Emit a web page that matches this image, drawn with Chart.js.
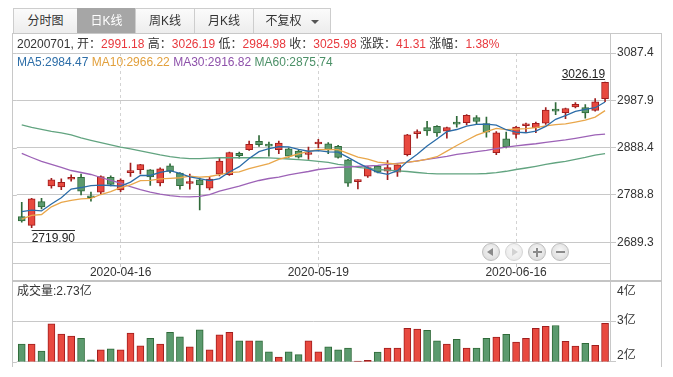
<!DOCTYPE html>
<html><head><meta charset="utf-8">
<script src="https://cdn.jsdelivr.net/npm/chart.js@4.4.0/dist/chart.umd.min.js"></script>
<style>
html,body{margin:0;padding:0;background:#fff;width:673px;height:377px;overflow:hidden;font-family:"Liberation Sans","Noto Sans CJK SC",Arial,sans-serif;font-size:12px;color:#333;}
.abs{position:absolute;white-space:nowrap;}
#pc{position:absolute;left:0;top:0;}
#vc{position:absolute;left:0;top:250px;}
.ln{position:absolute;background:#c8c8c8;}
.tab{position:absolute;top:8px;height:26px;box-sizing:border-box;border:1px solid #cdcdcd;background:linear-gradient(#fbfbfb,#ededed);text-align:center;line-height:24px;font-size:12px;color:#333;}
.tab.on{background:#a6a6a6;border-color:#a6a6a6;color:#fff;}
.tri{display:inline-block;width:0;height:0;border-left:4px solid transparent;border-right:4px solid transparent;border-top:4px solid #555;margin-left:9px;vertical-align:middle;}
.r{color:#e8383d;}
.nb{position:absolute;top:243px;width:18px;height:18px;border-radius:50%;box-sizing:border-box;background:radial-gradient(circle at 50% 40%,#f7f7f7,#d6d6d6);border:1px solid #bdbdbd;}
.nb i{position:absolute;display:block;}
</style></head>
<body>
<canvas id="pc" width="673" height="290"></canvas>
<canvas id="vc" width="673" height="127"></canvas>

<div class="tab" style="left:13px;width:65px;">分时图</div>
<div class="tab on" style="left:77px;width:59px;">日K线</div>
<div class="tab" style="left:135px;width:60px;">周K线</div>
<div class="tab" style="left:194px;width:60px;">月K线</div>
<div class="tab" style="left:253px;width:78px;">不复权<span class="tri"></span></div>

<div class="ln" style="left:12px;top:33px;width:650px;height:1px;"></div>
<div class="ln" style="left:12px;top:33px;width:1px;height:334px;"></div>
<div class="ln" style="left:661px;top:33px;width:1px;height:334px;"></div>
<div class="ln" style="left:610px;top:33px;width:1px;height:329px;"></div>
<div class="ln" style="left:12px;top:263px;width:598px;height:1px;"></div>
<div class="ln" style="left:12px;top:280px;width:650px;height:2px;background:#c4c4c4;"></div>

<div id="info" class="abs" style="left:17px;top:36px;line-height:16px;"></div>
<div id="malab" class="abs" style="left:17px;top:55px;line-height:15px;"></div>
<div id="vollab" class="abs" style="left:17px;top:284px;line-height:15px;">成交量:2.73亿</div>

<div class="nb" style="left:482px;"><i style="left:4px;top:4px;border-top:4px solid transparent;border-bottom:4px solid transparent;border-right:6px solid #8a8a8a;"></i></div>
<div class="nb" style="left:505px;background:radial-gradient(circle at 50% 40%,#fafafa,#e4e4e4);border-color:#d4d4d4;"><i style="left:6px;top:4px;border-top:4px solid transparent;border-bottom:4px solid transparent;border-left:6px solid #d2d2d2;"></i></div>
<div class="nb" style="left:528px;"><i style="left:3.5px;top:7px;width:9px;height:2px;background:#8a8a8a;"></i><i style="left:7px;top:3.5px;width:2px;height:9px;background:#8a8a8a;"></i></div>
<div class="nb" style="left:551px;"><i style="left:3.5px;top:7px;width:9px;height:2px;background:#8a8a8a;"></i></div>

<script>
const dates = ['2020-04-01','2020-04-02','2020-04-03','2020-04-07','2020-04-08','2020-04-09','2020-04-10','2020-04-13','2020-04-14','2020-04-15','2020-04-16','2020-04-17','2020-04-20','2020-04-21','2020-04-22','2020-04-23','2020-04-24','2020-04-27','2020-04-28','2020-04-29','2020-04-30','2020-05-06','2020-05-07','2020-05-08','2020-05-11','2020-05-12','2020-05-13','2020-05-14','2020-05-15','2020-05-18','2020-05-19','2020-05-20','2020-05-21','2020-05-22','2020-05-25','2020-05-26','2020-05-27','2020-05-28','2020-05-29','2020-06-01','2020-06-02','2020-06-03','2020-06-04','2020-06-05','2020-06-08','2020-06-09','2020-06-10','2020-06-11','2020-06-12','2020-06-15','2020-06-16','2020-06-17','2020-06-18','2020-06-19','2020-06-22','2020-06-23','2020-06-24','2020-06-29','2020-06-30','2020-07-01'];
const openP = [2743.4,2725.0,2775.0,2808.0,2806.0,2822.0,2825.7,2787.0,2794.6,2826.0,2799.6,2836.0,2841.8,2841.8,2814.4,2850.3,2835.0,2813.0,2820.7,2803.3,2832.6,2831.3,2876.2,2884.0,2901.5,2894.0,2884.0,2886.0,2881.0,2874.0,2896.0,2896.6,2891.0,2863.0,2817.0,2828.3,2849.4,2839.0,2837.0,2873.4,2917.7,2930.5,2933.0,2923.2,2941.0,2940.9,2951.4,2938.8,2877.6,2907.0,2916.2,2934.5,2930.5,2940.0,2967.5,2962.0,2973.8,2972.5,2966.8,2991.18];
const highP = [2773.5,2782.0,2782.0,2824.0,2822.8,2831.0,2833.0,2795.0,2829.0,2829.0,2823.0,2856.0,2853.5,2842.5,2846.0,2854.5,2836.0,2833.0,2825.0,2826.0,2866.0,2879.0,2879.0,2902.0,2914.0,2900.0,2902.0,2888.0,2884.0,2889.5,2906.0,2899.0,2893.0,2864.0,2820.5,2849.0,2851.0,2861.0,2854.0,2916.5,2926.0,2943.6,2935.0,2931.5,2954.0,2958.0,2956.0,2952.7,2922.0,2921.1,2933.0,2940.0,2942.0,2972.5,2983.0,2971.5,2983.0,2978.8,2991.5,3026.19];
const lowP = [2731.4,2719.90,2759.6,2803.0,2800.0,2818.0,2789.0,2776.0,2790.0,2808.0,2796.0,2828.0,2833.0,2808.7,2808.0,2835.0,2801.0,2801.0,2757.5,2799.6,2829.0,2830.0,2866.0,2882.5,2891.0,2870.5,2875.5,2868.0,2866.0,2863.5,2888.0,2875.5,2866.0,2807.0,2801.8,2826.0,2835.0,2821.0,2828.0,2871.0,2908.4,2914.0,2912.0,2908.4,2931.5,2936.0,2938.0,2910.5,2873.4,2888.0,2908.4,2919.8,2919.8,2937.0,2957.8,2949.3,2972.0,2950.6,2965.0,2984.98];
const closeP = [2734.52,2780.64,2763.99,2820.76,2815.37,2825.90,2796.63,2783.05,2827.28,2811.17,2819.94,2838.49,2852.55,2827.01,2843.98,2838.50,2808.53,2815.49,2810.02,2822.44,2860.08,2878.14,2871.52,2895.34,2894.80,2891.56,2898.05,2870.34,2868.46,2875.42,2898.58,2883.74,2867.92,2813.77,2817.97,2846.55,2836.80,2846.22,2852.35,2915.43,2921.40,2923.37,2919.25,2930.80,2937.77,2956.11,2943.32,2920.90,2919.74,2890.03,2931.75,2935.87,2939.32,2967.63,2965.27,2970.62,2979.55,2961.52,2984.67,3025.98];
const prevClose = 2984.67;
const volume = [2.43,2.43,2.26,2.93,2.68,2.63,2.57,2.04,2.29,2.31,2.29,2.70,2.39,2.57,2.43,2.72,2.61,2.36,2.78,2.29,2.66,2.72,2.51,2.51,2.51,2.24,2.11,2.24,2.17,2.51,2.24,2.36,2.29,2.33,2.01,2.03,2.23,2.33,2.33,2.82,2.80,2.77,2.51,2.43,2.55,2.33,2.33,2.57,2.60,2.67,2.48,2.57,2.82,2.87,2.89,2.50,2.38,2.45,2.40,2.94];
const ma5 = [2753.83,2756.97,2755.33,2770.04,2783.06,2801.33,2804.53,2808.34,2809.65,2808.81,2807.61,2815.99,2829.89,2829.83,2836.39,2840.11,2834.11,2826.70,2823.30,2819.00,2823.31,2837.23,2848.44,2865.50,2879.98,2886.27,2890.25,2890.02,2884.64,2880.77,2882.17,2879.31,2878.82,2867.89,2856.40,2845.99,2836.60,2832.26,2839.98,2859.47,2874.44,2891.75,2906.36,2922.05,2926.52,2933.46,2937.45,2937.78,2935.57,2926.02,2921.15,2919.66,2923.34,2932.92,2947.97,2955.74,2964.48,2968.92,2972.33,2984.47];
const ma10 = [2738.11,2745.96,2747.80,2763.86,2773.15,2777.58,2780.75,2781.84,2789.84,2795.93,2804.47,2810.26,2819.11,2819.74,2822.60,2823.86,2825.05,2828.29,2826.57,2827.70,2831.71,2835.67,2837.57,2844.40,2849.49,2854.79,2863.74,2869.23,2875.07,2880.37,2884.22,2884.78,2884.42,2876.26,2868.58,2864.08,2857.96,2855.54,2853.93,2857.93,2860.22,2864.18,2869.31,2881.01,2892.99,2903.95,2914.60,2922.07,2928.81,2926.27,2927.30,2928.55,2930.56,2934.24,2936.99,2938.45,2942.07,2946.13,2952.62,2966.22];
const ma30 = [2876.2,2867.7,2859.3,2853.0,2846.7,2840.3,2836.1,2831.9,2825.6,2819.3,2814.0,2806.6,2800.3,2795.0,2790.8,2787.6,2785.5,2784.9,2785.9,2789.7,2797.1,2802.4,2807.7,2814.0,2819.3,2823.5,2826.6,2830.9,2834.6,2838.2,2842.4,2845.0,2846.7,2847.7,2848.8,2849.8,2850.9,2853.0,2855.1,2857.2,2860.4,2863.5,2866.7,2869.8,2874.1,2876.8,2879.8,2882.5,2886.1,2889.5,2892.0,2894.5,2896.6,2899.4,2902.1,2904.6,2907.8,2911.4,2915.2,2916.82];
const ma60 = [2936.3,2931.0,2926.8,2922.6,2919.4,2915.2,2908.8,2903.6,2898.7,2894.1,2889.5,2885.7,2881.4,2877.2,2873.0,2869.4,2866.7,2865.2,2865.2,2866.3,2867.1,2867.1,2867.1,2867.1,2867.1,2866.9,2865.6,2864.5,2863.1,2861.4,2859.7,2857.2,2853.4,2850.9,2847.1,2844.6,2842.4,2841.0,2839.7,2838.2,2836.1,2834.4,2833.4,2833.4,2833.4,2833.4,2833.4,2834.0,2835.7,2838.7,2842.4,2845.6,2849.2,2853.0,2856.6,2859.7,2863.5,2867.7,2872.6,2875.74];
const priceTicks = [2689.3, 2788.8, 2888.4, 2987.9, 3087.4];
const priceTickLabels = ['2689.3','2788.8','2888.4','2987.9','3087.4'];
const priceMin = 2645.8, priceMax = 3087.4;
const volTicks = [2, 3, 4];
const volTickLabels = ['2亿','3亿','4亿'];
const dateTickLabels = ['2020-04-16','2020-05-19','2020-06-16'];

const FONT = "'Liberation Sans','Noto Sans CJK SC',Arial,sans-serif";
const UP_FILL = '#e8493f', UP_LINE = '#a01e1e', DN_FILL = '#5b9a6e', DN_LINE = '#2f6a39';
const isUp = closeP.map((c, i) => c >= openP[i]);
const fills = isUp.map(u => u ? UP_FILL : DN_FILL);
const lines = isUp.map(u => u ? UP_LINE : DN_LINE);
const MA_COL = ['#2b6ca8', '#e9a74b', '#9d63b7', '#62a480'];
const MA_TXT = ['#2d6ea8', '#e2a03c', '#8e51aa', '#4b9067'];

// header texts built from data
const L = closeP.length - 1;
const r = v => '<span class="r">' + v + '</span>';
const chg = closeP[L] - prevClose;
document.getElementById('info').innerHTML =
  dates[L].replace(/-/g, '') + ', 开：' + r(openP[L].toFixed(2)) + ' 高：' + r(highP[L].toFixed(2)) +
  ' 低：' + r(lowP[L].toFixed(2)) + ' 收：' + r(closeP[L].toFixed(2)) + ' 涨跌：' + r(chg.toFixed(2)) +
  ' 涨幅：' + r((chg / prevClose * 100).toFixed(2) + '%');
const maArr = [ma5, ma10, ma30, ma60], maNames = ['MA5', 'MA10', 'MA30', 'MA60'];
document.getElementById('malab').innerHTML = maNames.map((n, k) =>
  '<span style="color:' + MA_TXT[k] + '">' + n + ':' + maArr[k][L].toFixed(2) + '</span>').join(' ');

const gridStub = {
  id: 'gridStub',
  afterDraw(chart) {
    const ys = chart.scales.y, ctx = chart.ctx;
    ctx.save();
    ctx.strokeStyle = '#c8c8c8'; ctx.lineWidth = 1;
    ys.ticks.forEach(t => {
      const y = Math.round(ys.getPixelForValue(t.value)) + 0.5;
      ctx.beginPath(); ctx.moveTo(12, y); ctx.lineTo(chart.chartArea.left, y); ctx.stroke();
    });
    ctx.restore();
  }
};

const extremes = {
  id: 'extremes',
  afterDatasetsDraw(chart) {
    const xs = chart.scales.x, ys = chart.scales.y, ctx = chart.ctx;
    const hi = highP.indexOf(Math.max(...highP));
    const lo = lowP.indexOf(Math.min(...lowP));
    ctx.save();
    ctx.font = '12px ' + FONT;
    ctx.fillStyle = '#222'; ctx.strokeStyle = '#333'; ctx.lineWidth = 1;
    let t = highP[hi].toFixed(2), w = ctx.measureText(t).width;
    let x = xs.getPixelForValue(hi), y = Math.round(ys.getPixelForValue(highP[hi]) - 3) + 0.5;
    ctx.beginPath(); ctx.moveTo(x - w, y); ctx.lineTo(x, y); ctx.stroke();
    ctx.textAlign = 'right'; ctx.textBaseline = 'alphabetic';
    ctx.fillText(t, x, y - 1.5);
    t = lowP[lo].toFixed(2); w = ctx.measureText(t).width;
    x = xs.getPixelForValue(lo); y = Math.round(ys.getPixelForValue(lowP[lo]) + 2) + 0.5;
    ctx.beginPath(); ctx.moveTo(x, y); ctx.lineTo(x + w, y); ctx.stroke();
    ctx.textAlign = 'left';
    ctx.fillText(t, x, y + 11.5);
    ctx.restore();
  }
};

const maDatasets = maArr.map((d, k) => ({
  type: 'line', label: maNames[k], data: d, borderColor: MA_COL[k], borderWidth: 1.3,
  pointRadius: 0, tension: 0, order: 0
}));

new Chart(document.getElementById('pc'), {
  type: 'bar',
  data: {
    labels: dates,
    datasets: [
      ...maDatasets,
      { type: 'bar', label: 'body', data: openP.map((o, i) => [o, closeP[i]]),
        backgroundColor: fills, borderColor: lines, borderWidth: 1, borderSkipped: false,
        barThickness: 7, minBarLength: 2, grouped: false, order: 1 },
      { type: 'bar', label: 'wick', data: lowP.map((l, i) => [l, highP[i]]),
        backgroundColor: lines, borderWidth: 0, barThickness: 1, grouped: false, order: 2 }
    ]
  },
  options: {
    responsive: false, animation: false,
    layout: { padding: { left: 16.8, top: 53, right: 0, bottom: 0 } },
    plugins: { legend: { display: false }, tooltip: { enabled: false } },
    scales: {
      x: {
        type: 'category', offset: true,
        grid: { offset: false, color: '#d3d3d3', lineWidth: 1, drawTicks: true, tickLength: 4, tickColor: '#c8c8c8', tickBorderDash: [] },
        border: { display: false, dash: [3, 3] },
        ticks: { autoSkip: false, maxRotation: 0, minRotation: 0, padding: -2, color: '#333', font: { family: FONT, size: 12 } },
        afterBuildTicks: s => { s.ticks = dateTickLabels.map(d => ({ value: dates.indexOf(d) })); },
        afterFit: s => { s.height = 27; }
      },
      y: {
        position: 'right', min: priceMin, max: priceMax,
        grid: { color: '#c8c8c8', lineWidth: 1, tickLength: 6, drawTicks: true },
        border: { display: false },
        ticks: { autoSkip: false, padding: 1, color: '#333', font: { family: FONT, size: 12 }, callback: (v, i) => priceTickLabels[i] },
        afterBuildTicks: s => { s.ticks = priceTicks.map(v => ({ value: v })); },
        afterFit: s => { s.width = 63; }
      }
    }
  },
  plugins: [gridStub, extremes]
});

const vMin = volTicks[0], vMax = volTicks[volTicks.length - 1];
new Chart(document.getElementById('vc'), {
  type: 'bar',
  data: {
    labels: dates,
    datasets: [{ label: '成交量', data: volume, backgroundColor: fills, borderColor: lines,
      borderWidth: 1, borderSkipped: false, barThickness: 7 }]
  },
  options: {
    responsive: false, animation: false,
    layout: { padding: { left: 16.8, top: 30.5, right: 0, bottom: 15.5 } },
    plugins: { legend: { display: false }, tooltip: { enabled: false } },
    scales: {
      x: { type: 'category', offset: true, display: false },
      y: {
        position: 'right', min: vMin, max: vMax,
        grid: { color: '#c8c8c8', lineWidth: 1, tickLength: 6, drawTicks: true },
        border: { display: false },
        ticks: {
          autoSkip: false, padding: 1, color: '#333',
          font: ctx => ({ family: FONT, size: 12,
            lineHeight: ctx.tick && ctx.tick.value === vMax ? '22px' : (ctx.tick && ctx.tick.value === vMin ? '11px' : 1.2) }),
          callback: (v, i) => v === vMax ? ['', volTickLabels[i]] : (v === vMin ? [volTickLabels[i], ''] : volTickLabels[i])
        },
        afterBuildTicks: s => { s.ticks = volTicks.map(v => ({ value: v })); },
        afterFit: s => { s.width = 63; }
      }
    }
  },
  plugins: [gridStub]
});
</script>
</body></html>
